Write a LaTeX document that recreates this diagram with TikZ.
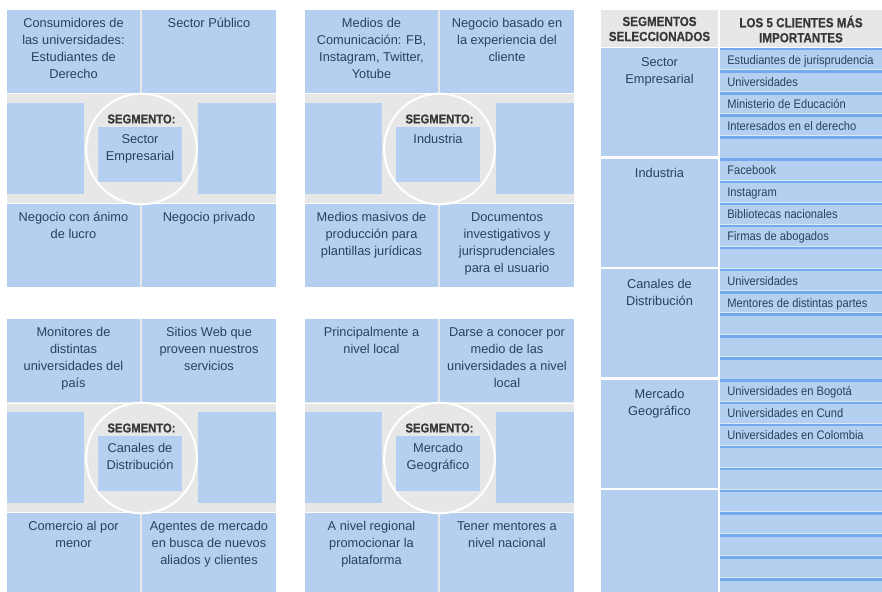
\documentclass[tikz,border=0pt]{standalone}
\usepackage{fontspec}
\setmainfont{Liberation Sans}
\newfontfamily\titfont[FakeStretch=0.88,FakeBold=0.6]{Liberation Sans}
\newfontfamily\tabfont[FakeStretch=0.9]{Liberation Sans}
\definecolor{azul}{HTML}{B4CFF0}
\definecolor{gris}{HTML}{E7E7E7}
\definecolor{linea}{HTML}{72AAEC}
\definecolor{texto}{HTML}{27415F}
\definecolor{titulo}{HTML}{383838}
\tikzset{
  caja/.style={fill=azul},
  txt/.style={text=texto, font=\fontsize{9.6pt}{12.75pt}\selectfont, align=center, inner sep=0pt, anchor=north},
  seg/.style={text=titulo, font=\titfont\bfseries\fontsize{9.6pt}{11pt}\selectfont, inner sep=0pt},
  tit/.style={text=titulo, font=\titfont\bfseries\fontsize{9.9pt}{11.25pt}\selectfont, align=center, inner sep=0pt},
  fila/.style={text=texto, font=\tabfont\fontsize{9.3pt}{10pt}\selectfont, inner sep=0pt, anchor=mid west},
}
\newcommand{\cuadrante}[7]{%
  \begin{scope}[shift={(#2)}]
    \fill[gris] (0,0) rectangle (269,277);
    \fill[caja] (0,0) rectangle (133,83);
    \fill[caja] (135,0) rectangle (269,83);
    \fill[caja] (0,93) rectangle (77,184);
    \fill[caja] (191,93) rectangle (269,184);
    \fill[caja] (0,194) rectangle (133,277);
    \fill[caja] (135,194) rectangle (269,277);
    \draw[white, line width=0.75pt] (0,84) -- (269,84) (0,193) -- (269,193);
    \draw[white, line width=1.5pt, fill=gris] (134.5,139) circle[radius=41.5pt];
    \fill[caja] (91,117) rectangle (175,172);
    \node[seg] (#1seg) at (134.5,109) {SEGMENTO:};
    \node[txt] (#1c) at (133,124) {#7};
    \node[txt] (#1tl) at (66.5,8) {#3};
    \node[txt] (#1tr) at (202,8) {#4};
    \node[txt] (#1bl) at (66.5,202) {#5};
    \node[txt] (#1br) at (202,202) {#6};
  \end{scope}}

\begin{document}
\begin{tikzpicture}[x=0.75pt,y=-0.75pt]
        \fill[white] (0,0) rectangle (882,592);
        \clip (0,0) rectangle (882,592);
        \cuadrante{emp}{7,10}{Consumidores de\\las universidades:\\Estudiantes de\\Derecho}{Sector Público}{Negocio con ánimo\\de lucro}{Negocio privado}{Sector\\Empresarial}
        \cuadrante{ind}{305,10}{Medios de\\Comunicación: FB,\\Instagram, Twitter,\\Yotube}{Negocio basado en\\la experiencia del\\cliente}{Medios masivos de\\producción para\\plantillas jurídicas}{Documentos\\investigativos y\\jurisprudenciales\\para el usuario}{Industria}
        \cuadrante{can}{7,319}{Monitores de\\distintas\\universidades del\\país}{Sitios Web que\\proveen nuestros\\servicios}{Comercio al por\\menor}{Agentes de mercado\\en busca de nuevos\\aliados y clientes}{Canales de\\Distribución}
        \cuadrante{geo}{305,319}{Principalmente a\\nivel local}{Darse a conocer por\\medio de las\\universidades a nivel\\local}{A nivel regional\\promocionar la\\plataforma}{Tener mentores a\\nivel nacional}{Mercado\\Geográfico}
        \fill[gris] (601,10) rectangle (718,47);
        \fill[gris] (720,10) rectangle (882,47);
        \node[tit] (hseg) at (659.5,29) {SEGMENTOS\\SELECCIONADOS};
        \node[tit] (hcli) at (801,29) {LOS 5 CLIENTES MÁS\\IMPORTANTES};
        \foreach \nombre [count=\s from 0] in {{Sector\\Empresarial}, {Industria}, {Canales de\\Distribución}, {Mercado\\Geográfico}, {}} {
          \pgfmathsetmacro\ya{48+110.5*\s}
          \fill[caja] (601,\ya) rectangle (718,\ya+108);
          \node[txt] (s\s) at (659.5,\ya+9.5) {\nombre};
        }
        \foreach \cliente [count=\i from 0] in {Estudiantes de jurisprudencia, Universidades, Ministerio de Educación, Interesados en el derecho, {}, Facebook, Instagram, Bibliotecas nacionales, Firmas de abogados, {}, Universidades, Mentores de distintas partes, {}, {}, {}, Universidades en Bogotá, Universidades en Cund, Universidades en Colombia, {}, {}, {}, {}, {}, {}, {}} {
          \pgfmathsetmacro\yb{48+110.5*int(\i/5)+22.1*mod(\i,5)}
          \fill[caja] (720,\yb) rectangle (882,\yb+22.1);
          \draw[white, opacity=0.5, line width=0.75pt] (720,\yb-0.5) -- (882,\yb-0.5);
          \draw[linea, line width=1.9pt] (720,\yb+1.2) -- (882,\yb+1.2);
          \node[fila] (c\i) at (727,\yb+12.5) {\cliente};
        }
      \end{tikzpicture}
\end{document}
